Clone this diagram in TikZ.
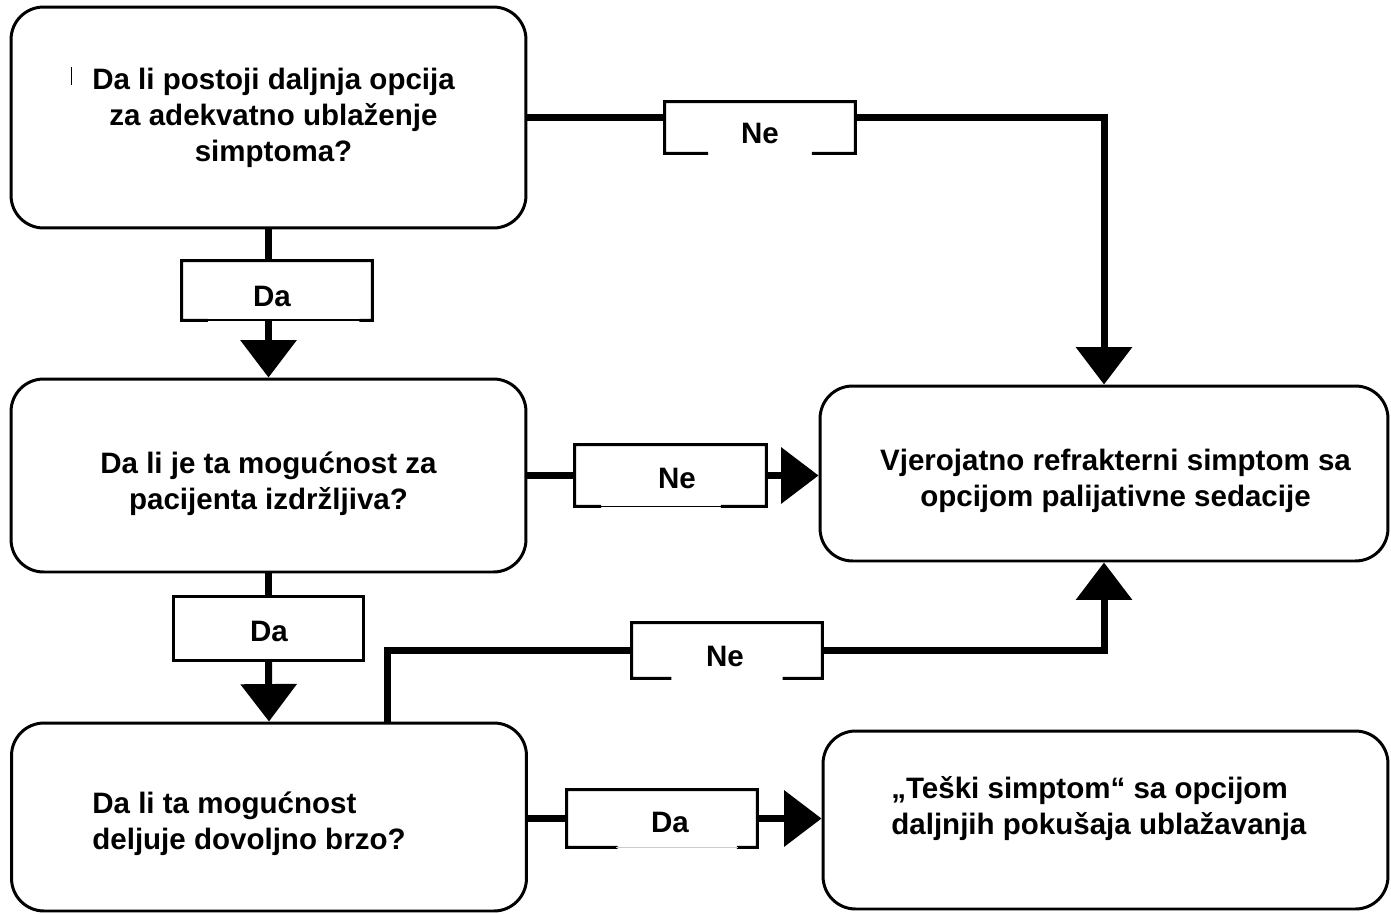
\documentclass[tikz,border=0pt]{standalone}
\usepackage{fontspec}
\setmainfont{Liberation Sans}
\usepackage{tikz}
\usetikzlibrary{positioning,calc,arrows.meta}

% frame of a Da/Ne tag: name, left end of gap, right end of gap, style of the gap
\newcommand{\tagframe}[4]{%
  \draw[frame] ($(#1.south west)!#2!(#1.south east)$) -- (#1.south west) -- (#1.north west)
    -- (#1.north east) -- (#1.south east) -- ($(#1.south west)!#3!(#1.south east)$);
  \draw[#4] ($(#1.south west)!#2!(#1.south east)$) -- ($(#1.south west)!#3!(#1.south east)$);
}

\begin{document}
\begin{tikzpicture}[x=0.02cm, y=-0.02cm,
  font=\fontsize{16.8}{20.5}\selectfont\bfseries,
  box/.style = {draw, line width=1.7pt, rounded corners=0.65cm, minimum width=10.3cm, align=center, inner sep=0pt},
  txt/.style = {align=center, inner sep=0pt},
  tag/.style = {minimum width=3.8cm, inner sep=0pt},
  frame/.style = {line width=1.7pt, line cap=rect},
  conn/.style = {line width=4pt},
  >={Triangle[width=1.1cm, length=0.75cm]}]

\useasboundingbox (0,0) rectangle (1391,913);

% questions on the left
\node[box, minimum height=4.42cm] (q1) at (268.5,117.5) {};
\node[txt] (q1text) at (273.5,117.5) {Da li postoji daljnja opcija\\za adekvatno ublaženje\\simptoma?};
\node[box, minimum height=3.86cm] (q2) at (268.5,475.5) {};
\node[txt] (q2text) at (268.5,484) {Da li je ta mogućnost za\\pacijenta izdržljiva?};
\node[box, minimum height=3.76cm] (q3) at (269,817) {};
\node[txt, anchor=west, align=left] (q3text) at (92,824) {Da li ta mogućnost\\deljuje dovoljno brzo?};

% results on the right
\node[box, minimum width=11.36cm, minimum height=3.5cm] (r1) at (1104,473.5) {};
\node[txt] (r1text) at (1115.5,481) {Vjerojatno refrakterni simptom sa\\opcijom palijativne sedacije};
\node[box, minimum width=11.3cm, minimum height=3.56cm] (r2) at (1105.5,820) {};
\node[txt, anchor=west, align=left] (r2text) at (891,809) {„Teški simptom“ sa opcijom\\daljnjih pokušaja ublažavanja};

% tags
\node[tag, minimum height=1.02cm] (ne1) at (760,127.5) {};
\node[tag, minimum height=1.18cm] (da1) at (277,290.5) {};
\node[tag, minimum width=3.82cm, minimum height=1.22cm] (ne2) at (670.5,475.5) {};
\node[tag, minimum width=3.78cm, minimum height=1.26cm] (da2) at (268.5,628.5) {};
\node[tag, minimum height=1.1cm] (ne3) at (727,650.5) {};
\node[tag, minimum height=1.14cm] (da3) at (662,818.5) {};
\node (ne1text) at (760,133) {Ne};
\node (da1text) at (272,296) {Da};
\node (ne2text) at (677,478) {Ne};
\node (da2text) at (269,631) {Da};
\node (ne3text) at (725,656) {Ne};
\node (da3text) at (670,822) {Da};

\tagframe{ne1}{0.22}{0.78}{draw=none}
\tagframe{da1}{0.13}{0.94}{line width=1.2pt}
\tagframe{ne2}{0.13}{0.77}{line width=0.9pt}
\tagframe{da2}{0.5}{0.5}{draw=none}
\tagframe{ne3}{0.2}{0.8}{draw=none}
\tagframe{da3}{0.26}{0.9}{line width=0.4pt, black!20}

% connectors
\draw[conn] (q1.east) -- (ne1.west |- q1.east);
\draw[conn, ->] (ne1.east |- q1.east) -| (r1.north);
\draw[conn] (q1.south) -- (q1.south |- da1.north);
\draw[conn, ->] (q1.south |- da1.south) -- (q2.north);
\draw[conn] (q2.east) -- (ne2.west |- q2.east);
\draw[conn, ->] (ne2.east |- q2.east) -- (r1.west |- q2.east);
\draw[conn] (q2.south) -- (q2.south |- da2.north);
\draw[conn, ->] (q2.south |- da2.south) -- (q3.north);
\draw[conn] ([xshift=2.38cm]q3.north) |- (ne3.west);
\draw[conn, ->] (ne3.east) -| (r1.south);
\draw[conn] (q3.east |- da3.west) -- (da3.west);
\draw[conn, ->] (da3.east) -- (r2.west |- da3.east);

\draw[line width=0.5pt] (71,67) -- (71,85);
\end{tikzpicture}
\end{document}
